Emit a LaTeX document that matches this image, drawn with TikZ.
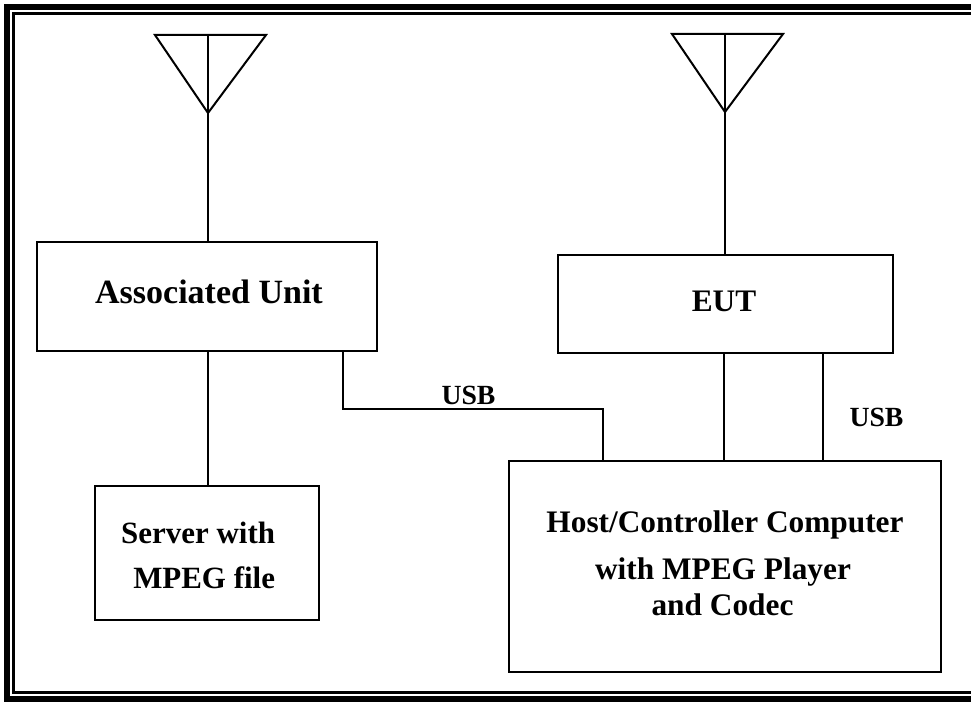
\documentclass[tikz,border=0pt]{standalone}
\usepackage{fontspec}
\setmainfont{Liberation Serif}
\begin{document}
\begin{tikzpicture}[x=0.75pt,y=-0.75pt,
  line width=1.5pt, line cap=rect,
  box/.style={draw, line width=1.5pt, rectangle, inner sep=0pt},
  bigtxt/.style={font=\bfseries\fontsize{25.5}{29}\selectfont, inner sep=0pt, anchor=base},
  euttxtstyle/.style={font=\bfseries\fontsize{23.5}{28}\selectfont, inner sep=0pt, anchor=base},
  midtxt/.style={font=\bfseries\fontsize{23.5}{27}\selectfont, inner sep=0pt, anchor=base},
  srvtxt/.style={font=\bfseries\fontsize{23.2}{27}\selectfont, inner sep=0pt, anchor=base east},
  usbtxt/.style={font=\bfseries\fontsize{20.8}{24}\selectfont, inner sep=0pt, anchor=base},
  wire/.style={draw, line width=1.5pt, line cap=butt},
  antenna/.style={draw, line width=1.5pt, line join=miter}]
\useasboundingbox (0,0) rectangle (971,702);
\clip (0,0) rectangle (971,702);
% frame
\draw[line width=4.5pt] (7,7.5) rectangle (990,699);
\draw[line width=2.25pt] (13.5,14) rectangle (984,692.5);
% boxes
\node[box, minimum width=255pt, minimum height=81.75pt] (au) at (207,296.5) {};
\node[box, minimum width=251.25pt, minimum height=73.5pt] (eut) at (725.5,304) {};
\node[box, minimum width=168pt, minimum height=100.5pt] (server) at (207,553) {};
\node[box, minimum width=324pt, minimum height=158.25pt] (host) at (725,566.5) {};
% texts
\node[bigtxt] (autxt) at (209,304) {Associated Unit};
\node[euttxtstyle] (euttxt) at (724,311) {EUT};
\node[srvtxt] (srv1) at (276,543) {Server with};
\node[srvtxt] (srv2) at (276,588) {MPEG file};
\node[midtxt] (host1) at (725,532) {Host/Controller Computer};
\node[midtxt] (host2) at (723,579) {with MPEG Player};
\node[midtxt] (host3) at (722.5,615) {and Codec};
\node[usbtxt] (usb1) at (468.5,404) {USB};
\node[usbtxt] (usb2) at (876.5,426) {USB};
% antennas
\coordinate (a1L) at (155,35);
\coordinate (a1R) at (266,35);
\coordinate (a1T) at (208,35);
\coordinate (a1A) at (208,113);
\coordinate (a2L) at (672,34);
\coordinate (a2R) at (783,34);
\coordinate (a2T) at (725,34);
\coordinate (a2A) at (725,112);
\draw[antenna] (a1L) -- (a1R) -- (a1A) -- cycle;
\draw[antenna] (a2L) -- (a2R) -- (a2A) -- cycle;
\draw[wire] (a1T) -- (a1T |- au.north);
\draw[wire] (a2T) -- (a2T |- eut.north);
% connectors
\coordinate (auS) at (208,351);
\draw[wire] (auS |- au.south) -- (auS |- server.north);
\coordinate (usbL) at (343,409);
\coordinate (usbR) at (603,409);
\draw[wire, line join=miter] (usbL |- au.south) -- (usbL) -- (usbR) -- (usbR |- host.north);
\coordinate (e1) at (724,353);
\coordinate (e2) at (823,353);
\draw[wire] (e1 |- eut.south) -- (e1 |- host.north);
\draw[wire] (e2 |- eut.south) -- (e2 |- host.north);
\end{tikzpicture}
\end{document}
